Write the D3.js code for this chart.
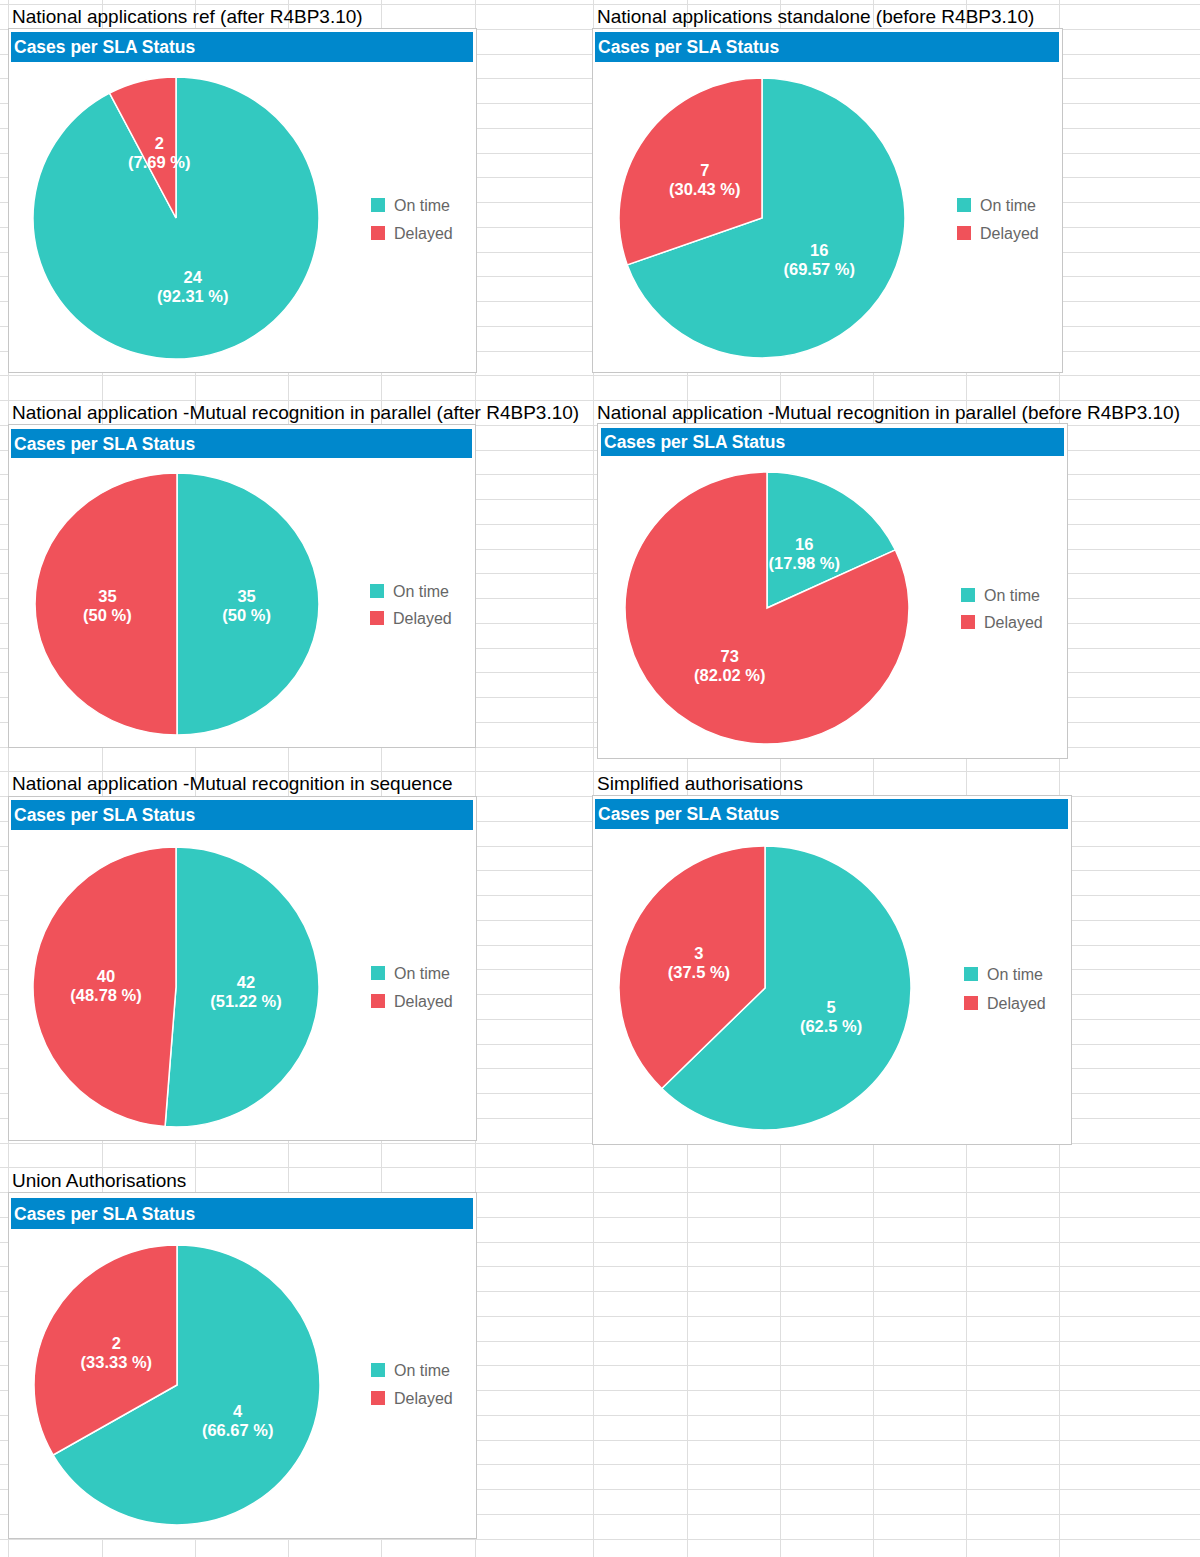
<!DOCTYPE html>
<head>
  <meta charset="utf-8">
  <script src="https://d3js.org/d3.v7.min.js"></script>
  <style>
    body { margin:0; background:white; font-family: "Liberation Sans", Arial, sans-serif; }
    .sheetTitle { font-size: 19px; fill: #000; }
    .header { fill: #0088cc; }
    .headerText { font-size: 17.5px; font-weight: bold; fill: white; }
    .legendText { font-size: 16px; fill: #666; }
    .sliceLabel { font-size: 16.5px; font-weight: bold; fill: white; }
  </style>
</head>

<body>
  <script>
    // data
    var panelTitles = [
      "National applications ref (after R4BP3.10)",
      "National applications standalone (before R4BP3.10)",
      "National application -Mutual recognition in parallel (after R4BP3.10)",
      "National application -Mutual recognition in parallel (before R4BP3.10)",
      "National application -Mutual recognition in sequence",
      "Simplified authorisations",
      "Union Authorisations"
    ];
    var categories = ["On time", "Delayed"];
    var onTime  = [24, 16, 35, 16, 42, 5, 4];
    var delayed = [2, 7, 35, 73, 40, 3, 2];
    var chartTitle = "Cases per SLA Status";

    var colors = ["#33c9c0", "#f0525a"];

    // where each pasted chart sits on the sheet
    var layout = [
      {tx:12,  ty:23,   x:8,   y:28,   w:468, h:344, hx:11,  hy:32,  hw:462, hh:30, cx:176, cy:218,  rx:143, ry:141, lx:371, ly:198,  ld:28},
      {tx:597, ty:23,   x:592, y:28,   w:470, h:344, hx:595, hy:32,  hw:464, hh:30, cx:762, cy:218,  rx:143, ry:140, lx:957, ly:198,  ld:28},
      {tx:12,  ty:419,  x:8,   y:424,  w:467, h:323, hx:11,  hy:429, hw:461, hh:29, cx:177, cy:604,  rx:142, ry:131, lx:370, ly:584,  ld:27},
      {tx:597, ty:419,  x:597, y:423,  w:470, h:335, hx:601, hy:428, hw:463, hh:28, cx:767, cy:608,  rx:142, ry:136, lx:961, ly:588,  ld:27},
      {tx:12,  ty:790,  x:8,   y:796,  w:468, h:344, hx:11,  hy:800, hw:462, hh:30, cx:176, cy:987,  rx:143, ry:140, lx:371, ly:966,  ld:28},
      {tx:597, ty:790,  x:592, y:795,  w:479, h:349, hx:595, hy:799, hw:473, hh:30, cx:765, cy:988,  rx:146, ry:142, lx:964, ly:967,  ld:29},
      {tx:12,  ty:1187, x:8,   y:1192, w:468, h:346, hx:11,  hy:1198,hw:462, hh:31, cx:177, cy:1385, rx:143, ry:140, lx:371, ly:1363, ld:28}
    ];

    var W = 1200, H = 1557;
    var svg = d3.select("body").append("svg")
      .attr("width", W)
      .attr("height", H);

    // spreadsheet grid behind the charts
    var colsLeft = [8, 102, 195, 288, 381, 475];
    var colsRight = [593, 687, 780, 873, 966, 1059];
    var rows = d3.range(4, H, 24.75);

    var grid = svg.append("g").attr("stroke", "#dedede").attr("stroke-width", 1);
    grid.selectAll(".row").data(rows).enter().append("line")
      .attr("x1", 0).attr("x2", W)
      .attr("y1", function(d) {return Math.round(d) + 0.5})
      .attr("y2", function(d) {return Math.round(d) + 0.5});
    grid.selectAll(".col").data(colsLeft.concat(colsRight)).enter().append("line")
      .attr("y1", 0).attr("y2", H)
      .attr("x1", function(d) {return d + 0.5})
      .attr("x2", function(d) {return d + 0.5});

    var color = d3.scaleOrdinal().domain(categories).range(colors);
    var pie = d3.pie().sort(null).value(function(d) {return d.value});

    function pct(v, total) {
      return String(+(v / total * 100).toFixed(2));
    }

    panelTitles.forEach(function(title, i) {
      var L = layout[i];
      var data = [
        {key: categories[0], value: onTime[i]},
        {key: categories[1], value: delayed[i]}
      ];
      var total = d3.sum(data, function(d) {return d.value});

      svg.append("text")
        .attr("class", "sheetTitle")
        .attr("x", L.tx)
        .attr("y", L.ty)
        .text(title);

      var g = svg.append("g");

      g.append("rect")
        .attr("x", L.x + 0.5).attr("y", L.y + 0.5)
        .attr("width", L.w).attr("height", L.h)
        .attr("fill", "white")
        .attr("stroke", "#c6c6c6");

      g.append("rect")
        .attr("class", "header")
        .attr("x", L.hx).attr("y", L.hy)
        .attr("width", L.hw).attr("height", L.hh);

      g.append("text")
        .attr("class", "headerText")
        .attr("x", L.hx + 3)
        .attr("y", L.hy + L.hh / 2 + 6)
        .text(chartTitle);

      var arcs = pie(data);
      var arc = d3.arc().innerRadius(0).outerRadius(L.rx);
      var labelArc = d3.arc().innerRadius(L.rx * 0.49).outerRadius(L.rx * 0.49);
      var sy = L.ry / L.rx;

      g.append("g")
        .attr("transform", "translate(" + L.cx + "," + L.cy + ") scale(1," + sy + ")")
        .selectAll("path").data(arcs).enter().append("path")
        .attr("d", arc)
        .attr("fill", function(d) {return color(d.data.key)})
        .attr("stroke", "white")
        .attr("stroke-width", 1.5);

      var labels = g.append("g").selectAll("text").data(arcs).enter().append("text")
        .attr("class", "sliceLabel")
        .attr("text-anchor", "middle")
        .attr("transform", function(d) {
          var c = labelArc.centroid(d);
          return "translate(" + (L.cx + c[0]) + "," + (L.cy + c[1] * sy) + ")";
        });
      labels.append("tspan").attr("x", 0).attr("y", -2)
        .text(function(d) {return d.data.value});
      labels.append("tspan").attr("x", 0).attr("y", 17)
        .text(function(d) {return "(" + pct(d.data.value, total) + " %)"});

      var legend = g.selectAll(".legend").data(categories).enter().append("g")
        .attr("transform", function(d, j) {return "translate(" + L.lx + "," + (L.ly + j * L.ld) + ")"});
      legend.append("rect")
        .attr("width", 14).attr("height", 14)
        .attr("fill", function(d) {return color(d)});
      legend.append("text")
        .attr("class", "legendText")
        .attr("x", 23).attr("y", 13)
        .text(function(d) {return d});
    });
  </script>
</body>
